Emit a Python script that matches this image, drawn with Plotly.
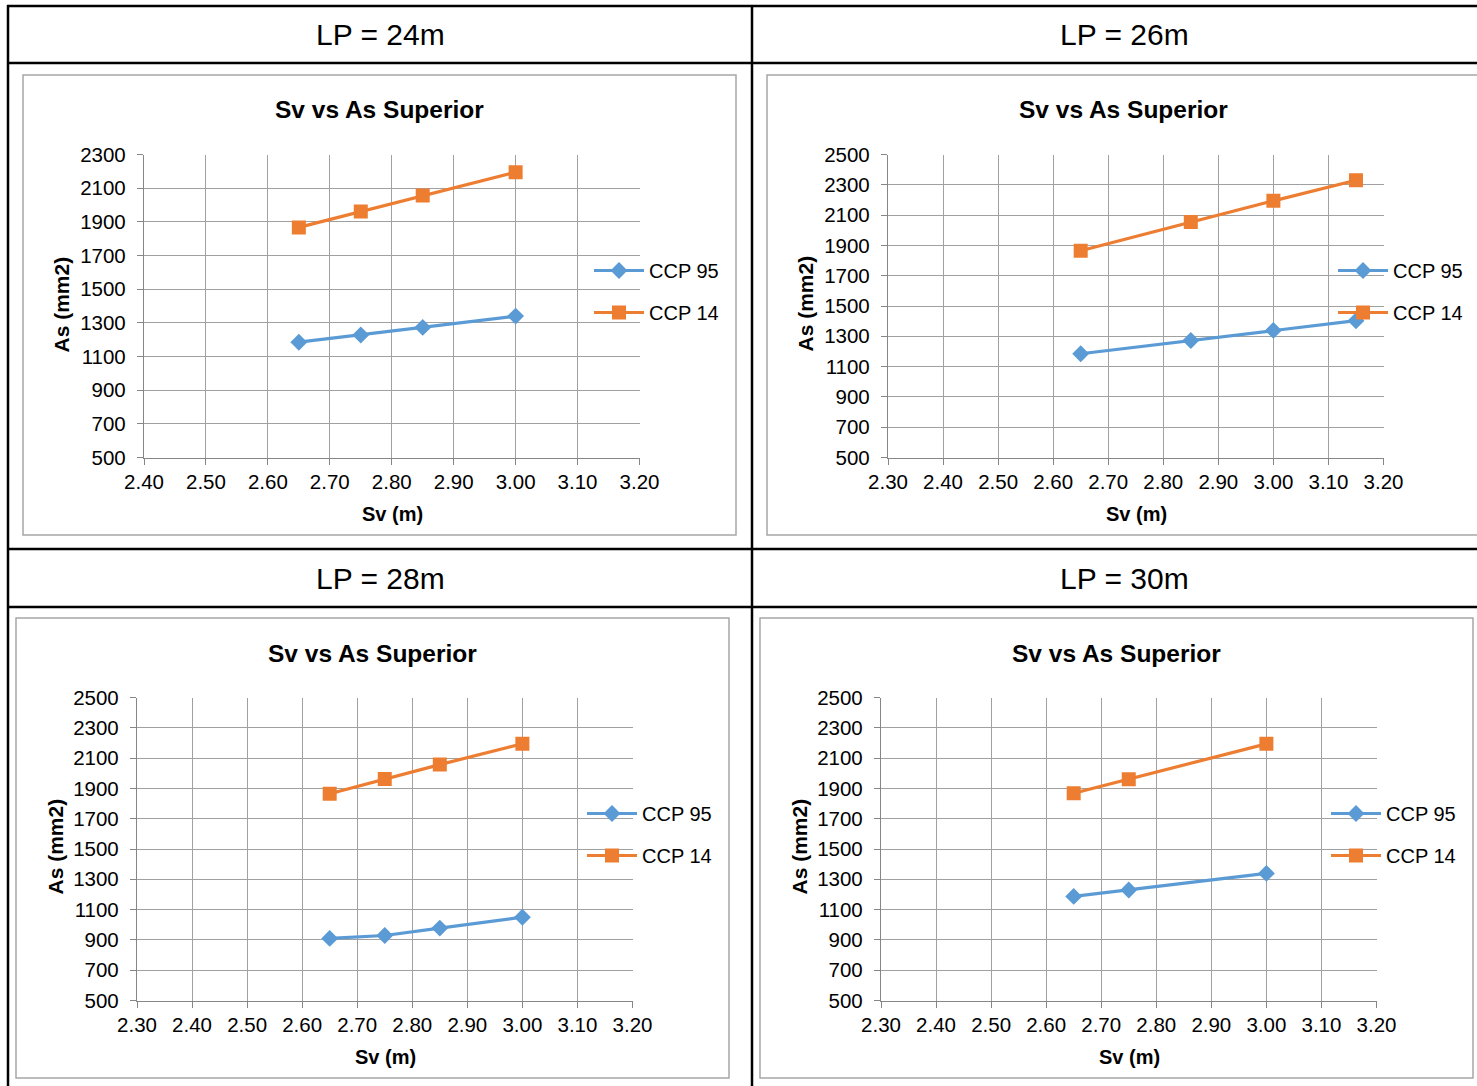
import plotly.graph_objects as go

W, H = 1477, 1086

# ---- data -------------------------------------------------------------
lp_labels = ["LP = 24m", "LP = 26m", "LP = 28m", "LP = 30m"]
series_names = ["CCP 95", "CCP 14"]

sv_24 = [2.65, 2.75, 2.85, 3.00]
ccp95_24 = [1185, 1228, 1273, 1340]
ccp14_24 = [1867, 1961, 2056, 2195]

sv_26 = [2.65, 2.85, 3.00, 3.15]
ccp95_26 = [1185, 1272, 1339, 1403]
ccp14_26 = [1865, 2054, 2194, 2330]

sv_28 = [2.65, 2.75, 2.85, 3.00]
ccp95_28 = [910, 929, 978, 1050]
ccp14_28 = [1865, 1962, 2057, 2195]

sv_30 = [2.65, 2.75, 3.00]
ccp95_30 = [1187, 1229, 1339]
ccp14_30 = [1868, 1961, 2194]

x_ranges = [[2.40, 3.20], [2.30, 3.20], [2.30, 3.20], [2.30, 3.20]]
y_ranges = [[500, 2300], [500, 2500], [500, 2500], [500, 2500]]

panels_sv = [sv_24, sv_26, sv_28, sv_30]
panels_95 = [ccp95_24, ccp95_26, ccp95_28, ccp95_30]
panels_14 = [ccp14_24, ccp14_26, ccp14_28, ccp14_30]

chart_title = "Sv vs As Superior"
x_title = "Sv (m)"
y_title = "As (mm2)"

# ---- styling / geometry (pixels) -------------------------------------
FONT = "Liberation Sans, Arial, sans-serif"
BLUE = "#5B9BD5"
ORANGE = "#ED7D31"
GRID = "#A0A0A0"
AXIS = "#868686"

# top-left corners of the four chart boxes
origins = [(23, 75), (767, 75), (16, 618), (760, 618)]
BOX_W, BOX_H = 713, 460
PL, PR, PT, PB = 121, 616.5, 79.5, 382.5  # plot area inside a box

header_centers = [(380, 35), (1124, 35), (380, 578), (1124, 578)]


def px(x):
    return x / W


def py(y):
    return 1 - y / H


fig = go.Figure()
shapes = []
annotations = []
layout = {}

for i in range(4):
    n = "" if i == 0 else str(i + 1)
    ox, oy = origins[i]
    xa, ya = "x" + n, "y" + n
    leg = "legend" + n

    fig.add_trace(go.Scatter(
        x=panels_sv[i], y=panels_95[i], name=series_names[0],
        mode="lines+markers", xaxis=xa, yaxis=ya, legend=leg,
        legendgroup="a" + n,
        line=dict(color=BLUE, width=3.2),
        marker=dict(symbol="diamond", size=13, color=BLUE),
    ))
    fig.add_trace(go.Scatter(
        x=panels_sv[i], y=panels_14[i], name=series_names[1],
        mode="lines+markers", xaxis=xa, yaxis=ya, legend=leg,
        legendgroup="b" + n,
        line=dict(color=ORANGE, width=3.2),
        marker=dict(symbol="square", size=14, color=ORANGE),
    ))

    layout["xaxis" + n] = dict(
        domain=[px(ox + PL), px(ox + PR)], anchor=ya,
        range=x_ranges[i], dtick=0.1, tick0=2.0, tickformat=".2f",
        showgrid=True, gridcolor=GRID, gridwidth=1.3,
        showline=True, linecolor=AXIS, linewidth=1.3,
        ticks="outside", ticklen=6, tickcolor=AXIS, tickwidth=1.3,
        ticklabelstandoff=0,
        tickfont=dict(family=FONT, size=20.5, color="#000000"),
        zeroline=False, fixedrange=True,
    )
    layout["yaxis" + n] = dict(
        domain=[py(oy + PB), py(oy + PT)], anchor=xa,
        range=y_ranges[i], dtick=200, tick0=500,
        showgrid=True, gridcolor=GRID, gridwidth=1.3,
        showline=True, linecolor=AXIS, linewidth=1.3,
        ticks="outside", ticklen=6, tickcolor=AXIS, tickwidth=1.3,
        ticklabelstandoff=7,
        tickfont=dict(family=FONT, size=20.5, color="#000000"),
        zeroline=False, fixedrange=True,
    )
    layout[leg] = dict(
        x=px(ox + 566), y=py(oy + 176), xanchor="left", yanchor="top",
        bgcolor="rgba(0,0,0,0)", borderwidth=0,
        font=dict(family=FONT, size=20, color="#000000"),
        itemwidth=50, tracegroupgap=13,
    )

    # chart box
    shapes.append(dict(
        type="rect", xref="paper", yref="paper",
        x0=px(ox), x1=px(ox + BOX_W), y0=py(oy), y1=py(oy + BOX_H),
        line=dict(color="#A6A6A6", width=1.5), layer="below",
    ))

    annotations += [
        dict(text=lp_labels[i], x=px(header_centers[i][0]),
             y=py(header_centers[i][1]), xref="paper", yref="paper",
             showarrow=False, xanchor="center", yanchor="middle",
             font=dict(family=FONT, size=30, color="#000000")),
        dict(text="<b>" + chart_title + "</b>", x=px(ox + 356.5),
             y=py(oy + 35), xref="paper", yref="paper",
             showarrow=False, xanchor="center", yanchor="middle",
             font=dict(family=FONT, size=24.5, color="#000000")),
        dict(text="<b>" + x_title + "</b>", x=px(ox + 369),
             y=py(oy + 439), xref="paper", yref="paper",
             showarrow=False, xanchor="center", yanchor="middle",
             font=dict(family=FONT, size=20, color="#000000")),
        dict(text="<b>" + y_title + "</b>", x=px(ox + 38.5),
             y=py(oy + 229), xref="paper", yref="paper", textangle=-90,
             showarrow=False, xanchor="center", yanchor="middle",
             font=dict(family=FONT, size=21, color="#000000")),
    ]

# table rules
for yy in [6, 63, 549, 607]:
    shapes.append(dict(type="line", xref="paper", yref="paper",
                       x0=px(7), x1=px(W + 5), y0=py(yy), y1=py(yy),
                       line=dict(color="#000000", width=2.5)))
for xx in [8, 752]:
    shapes.append(dict(type="line", xref="paper", yref="paper",
                       x0=px(xx), x1=px(xx), y0=py(5), y1=py(H + 5),
                       line=dict(color="#000000", width=2.5)))

fig.update_layout(
    width=W, height=H,
    margin=dict(l=0, r=0, t=0, b=0, autoexpand=False),
    paper_bgcolor="white", plot_bgcolor="white",
    shapes=shapes, annotations=annotations, **layout,
)

fig.write_html("out.html", config={"displayModeBar": False})
